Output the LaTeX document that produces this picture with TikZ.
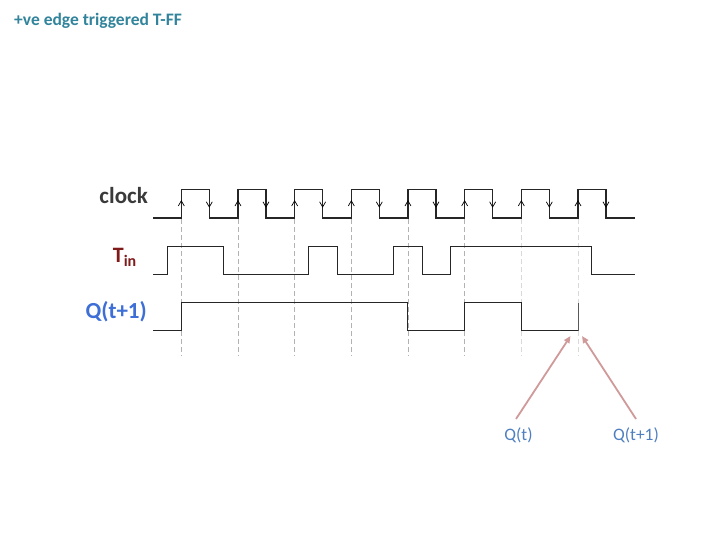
\documentclass[tikz,border=0pt]{standalone}
\usepackage{fontspec}
\setmainfont{Carlito}
\usetikzlibrary{arrows.meta}
\definecolor{titlec}{HTML}{31849B}
\definecolor{clockc}{HTML}{3A3A3A}
\definecolor{tinc}{HTML}{7F1A1A}
\definecolor{qc}{HTML}{3D6FD6}
\definecolor{qlbl}{HTML}{4F7FC0}
\definecolor{pinkc}{HTML}{D09A9A}
\tikzset{
  wave/.style={line width=1.0pt, black!85, line join=miter},
  clockwave/.style={line width=1.4pt, black!85, line join=miter},
  guide/.style={dashed, line width=0.8pt, dash pattern=on 5pt off 3pt},
  edgemark/.style={line width=0.7pt, black},
  siglabel/.style={font=\bfseries\fontsize{23}{26}\selectfont, inner sep=0pt},
  notelabel/.style={font=\fontsize{17.5}{20}\selectfont, text=qlbl, inner sep=0pt},
  pointer/.style={line width=1.8pt, pinkc, -{Triangle[length=7pt,width=6pt]}}
}
\begin{document}
\begin{tikzpicture}[x=1pt,y=-1pt]
\useasboundingbox (0,0) rectangle (720,540);
% title
\node[anchor=base west, inner sep=0pt, text=titlec, font=\bfseries\fontsize{17.5}{20}\selectfont] (title) at (14,26) {+ve edge triggered T-FF};
% labels
\node[siglabel, anchor=base east, text=clockc] (clk) at (148,204) {clock};
\node[siglabel, anchor=base east, text=tinc, font=\bfseries\fontsize{22}{26}\selectfont] (tin) at (137,262) {T\textsubscript{\fontsize{16}{18}\selectfont in}};
\node[siglabel, anchor=base east, text=qc] (q) at (147,318.5) {Q(t+1)};
% dashed guides at rising edges
\foreach \k in {0,...,7}{
  \pgfmathsetmacro{\r}{181.3+56.67*\k}
  \ifnum\k<6 \def\gc{gray!60}\else\def\gc{gray!30}\fi
  \draw[guide, draw=\gc] (\r,219) -- (\r,356);
}
% clock waveform
\draw[clockwave] (153,218)
  \foreach \k in {0,...,7}{
    -- ({181.3+56.67*\k},218) -- ({181.3+56.67*\k},189.7)
    -- ({209.3+56.67*\k},189.7) -- ({209.3+56.67*\k},218)
  } -- (635,218);
% edge marks
\foreach \k in {0,...,7}{
  \pgfmathsetmacro{\r}{181.3+56.67*\k}
  \pgfmathsetmacro{\f}{209.3+56.67*\k}
  \draw[edgemark] (\r-3,206) -- (\r,200.8) -- (\r+3,206);
  \draw[edgemark] (\f-3,201.8) -- (\f,207) -- (\f+3,201.8);
}
% T input
\draw[wave] (153,274.3) -- (167.3,274.3) -- (167.3,246.3) -- (223.7,246.3) -- (223.7,274.3)
  -- (308.7,274.3) -- (308.7,246.3) -- (337,246.3) -- (337,274.3)
  -- (393.7,274.3) -- (393.7,246.3) -- (422.3,246.3) -- (422.3,274.3)
  -- (450.3,274.3) -- (450.3,246.3) -- (591.7,246.3) -- (591.7,274.3) -- (635,274.3);
% Q output
\draw[wave] (153,330.7) -- (181.3,330.7) -- (181.3,302.7) -- (407.6,302.7) -- (407.6,330.7)
  -- (464.3,330.7) -- (464.3,302.7) -- (521,302.7) -- (521,330.7) -- (578,330.7);
\draw[line width=0.9pt, black!65] (578,330.7) -- (578,302.7);
% notes
\node[notelabel, anchor=base] (qt) at (518.5,440) {Q(t)};
\node[notelabel, anchor=base] (qt1) at (636,440) {Q(t+1)};
\coordinate (qtstart) at (516,419);
\coordinate (qtend) at (570.5,336);
\coordinate (qt1start) at (636,419);
\coordinate (qt1end) at (582,336);
\draw[pointer] (qtstart) -- (qtend);
\draw[pointer] (qt1start) -- (qt1end);
\end{tikzpicture}
\end{document}
